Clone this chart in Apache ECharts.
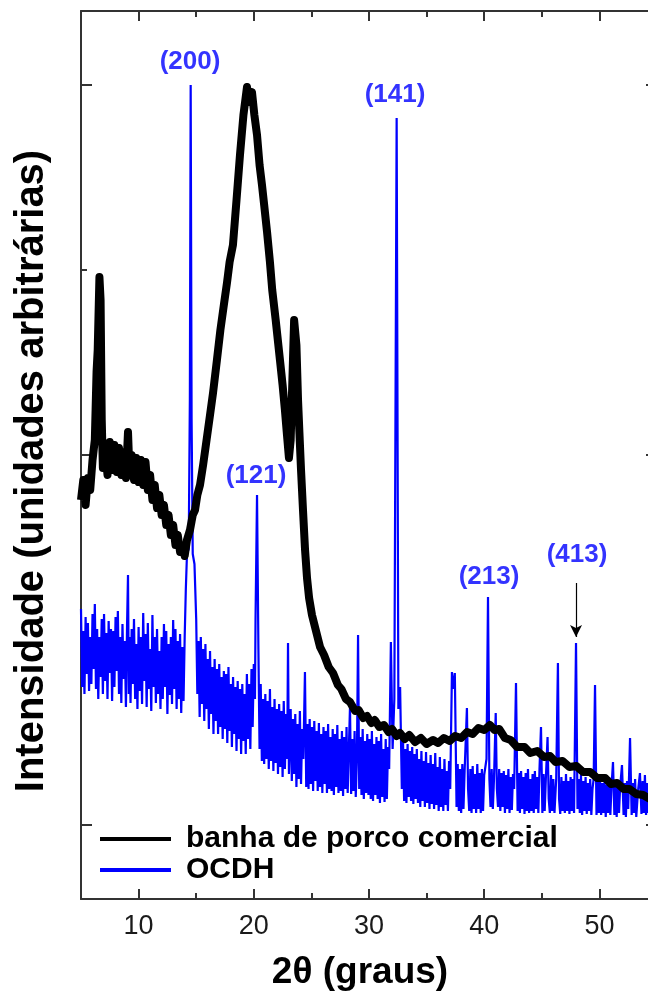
<!DOCTYPE html>
<html>
<head>
<meta charset="utf-8">
<script src="https://cdn.jsdelivr.net/npm/echarts@6/dist/echarts.min.js"></script>
<style>html,body{margin:0;padding:0;background:#fff}#c{width:648px;height:996px}</style>
</head>
<body>
<div id="c"></div>
<script>
// ---- data (2θ in degrees, intensity in arbitrary units) ----
const seriesNames = ['banha de porco comercial', 'OCDH'];
const xTickMajor = [10, 20, 30, 40, 50];
const xTickMinor = [15, 25, 35, 45];
const yTickMajor = [74, 444, 814];
const yTickMinor = [259, 629];

const banha = [
[5.0,399],[5.2,419],[5.4,394],[5.6,421],[5.8,409],[6.0,439],[6.2,459],[6.35,527],[6.45,549],[6.6,622],[6.7,599],[6.8,479],[6.9,431],
[7.1,449],[7.3,424],[7.5,457],[7.7,429],[7.9,454],[8.1,427],[8.3,451],[8.5,424],[8.7,447],[8.9,421],[9.08,467],[9.2,429],[9.4,444],
[9.6,419],[9.8,441],[10.0,417],[10.2,439],[10.4,414],[10.6,437],[10.8,409],[11.0,424],[11.2,399],[11.4,414],[11.6,391],[11.8,404],
[12.0,384],[12.2,394],[12.4,374],[12.6,384],[12.8,364],[13.0,374],[13.2,354],[13.4,364],[13.6,347],[13.85,351],[14.0,343],[14.2,359],
[14.46,369],[14.7,384],[14.9,389],[15.1,404],[15.33,414],[15.6,434],[15.9,459],[16.2,484],[16.46,506],[16.8,539],[17.1,569],[17.4,594],
[17.67,616],[17.9,637],[18.19,654],[18.5,699],[18.8,744],[19.1,784],[19.41,812],[19.6,797],[19.84,807],[20.05,784],[20.28,764],[20.5,734],
[20.71,714],[20.9,694],[21.15,667],[21.4,637],[21.6,609],[21.9,579],[22.27,539],[22.5,514],[22.7,489],[22.88,464],[23.05,441],[23.2,459],
[23.35,519],[23.5,579],[23.58,581],[23.7,554],[23.84,499],[23.95,469],[24.1,429],[24.27,389],[24.45,349],[24.62,321],[24.8,301],
[25.05,284],[25.4,268],[25.75,252],[26.1,244],[26.5,232],[26.88,226],[27.3,214],[27.6,210],[28.0,200],[28.35,197],[28.8,188],[29.1,189],
[29.5,181],[29.83,183],[30.2,176],[30.5,179],[30.9,172],[31.3,174],[31.7,167],[32.0,170],[32.4,163],[32.69,166],[33.1,160],[33.5,164],
[34.0,157],[34.5,161],[35.0,155],[35.56,159],[36.0,156],[36.5,161],[37.0,158],[37.47,163],[38.0,161],[38.51,167],[39.0,165],[39.5,171],
[40.0,169],[40.5,174],[40.9,169],[41.3,170],[41.8,161],[42.3,159],[42.85,152],[43.5,152],[44.0,146],[44.6,148],[45.2,142],[45.71,143],
[46.2,137],[46.8,138],[47.4,132],[48.0,133],[48.58,127],[49.2,127],[49.8,121],[50.5,121],[51.0,115],[51.53,116],[52.1,110],[52.6,110],
[53.2,105],[53.8,104],[54.4,100],[55.0,99]
];

const ocdh = [
[5.0,290],[5.1,212],[5.2,268],[5.3,205],[5.4,282],[5.5,225],[5.6,276],[5.7,208],[5.8,262],[5.9,215],[6.0,285],[6.1,230],[6.2,295],[6.3,210],
[6.4,270],[6.5,200],[6.6,262],[6.7,222],[6.8,280],[6.9,205],[7.0,285],[7.1,218],[7.2,266],[7.3,200],[7.4,278],[7.5,226],[7.6,270],[7.7,198],
[7.8,268],[7.9,212],[8.0,282],[8.1,228],[8.2,288],[8.3,205],[8.4,262],[8.5,196],[8.6,275],[8.7,220],[8.8,258],[8.9,192],[9.0,275],[9.08,324],
[9.15,205],[9.2,262],[9.3,196],[9.4,270],[9.5,215],[9.6,280],[9.7,200],[9.8,255],[9.9,190],[10.0,272],[10.1,208],[10.2,262],[10.3,195],
[10.4,286],[10.5,218],[10.6,265],[10.7,192],[10.8,276],[10.9,210],[11.0,250],[11.1,188],[11.2,284],[11.3,212],[11.4,262],[11.5,196],
[11.6,270],[11.7,205],[11.8,248],[11.9,190],[12.0,262],[12.1,200],[12.2,275],[12.3,212],[12.4,268],[12.5,185],[12.6,255],[12.7,204],
[12.8,262],[12.9,195],[13.0,279],[13.1,210],[13.2,270],[13.3,190],[13.4,258],[13.5,200],[13.6,265],[13.7,186],[13.8,252],[13.9,198],
[14.0,262],[14.1,310],[14.2,345],[14.35,350],[14.45,500],[14.52,814],[14.6,480],[14.7,345],[14.85,335],[15.0,280],[15.1,205],
[15.2,258],[15.3,182],[15.4,262],[15.5,195],[15.6,250],[15.7,178],[15.8,255],[15.9,190],[16.0,240],[16.1,170],[16.2,248],[16.3,185],
[16.4,232],[16.5,165],[16.6,240],[16.7,178],[16.8,230],[16.9,165],[17.0,235],[17.1,172],[17.2,222],[17.3,160],[17.4,228],[17.5,170],
[17.6,225],[17.7,156],[17.8,232],[17.9,168],[18.0,215],[18.1,152],[18.2,222],[18.3,165],[18.4,212],[18.5,148],[18.6,218],[18.7,160],
[18.8,210],[18.9,145],[19.0,215],[19.1,158],[19.2,205],[19.3,145],[19.4,225],[19.5,160],[19.6,215],[19.7,150],[19.8,230],[19.9,172],
[20.0,235],[20.1,200],[20.15,280],[20.28,404],[20.4,250],[20.5,150],[20.6,215],[20.7,138],[20.8,200],[20.9,135],[21.0,205],[21.1,140],
[21.2,198],[21.3,130],[21.4,210],[21.5,138],[21.6,192],[21.7,128],[21.8,200],[21.9,136],[22.0,190],[22.1,125],[22.2,195],[22.3,132],
[22.4,188],[22.5,122],[22.6,198],[22.7,130],[22.8,185],[22.9,140],[22.97,256],[23.05,125],[23.2,190],[23.3,118],[23.4,180],[23.5,125],
[23.6,185],[23.7,112],[23.8,175],[23.9,120],[24.0,188],[24.1,115],[24.2,170],[24.3,140],[24.44,227],[24.55,112],[24.65,175],[24.75,110],
[24.85,180],[24.95,115],[25.05,172],[25.15,108],[25.25,178],[25.35,118],[25.45,168],[25.55,108],[25.65,176],[25.75,112],[25.85,165],
[25.95,106],[26.05,172],[26.15,115],[26.25,168],[26.35,106],[26.45,175],[26.55,110],[26.65,162],[26.75,108],[26.85,170],[26.95,104],
[27.05,165],[27.15,112],[27.25,174],[27.35,106],[27.45,160],[27.55,108],[27.65,168],[27.75,103],[27.85,162],[27.95,110],[28.05,172],
[28.15,106],[28.25,150],[28.35,192],[28.45,105],[28.55,160],[28.65,108],[28.75,168],[28.85,102],[28.95,140],[29.05,264],[29.15,110],
[29.25,162],[29.35,104],[29.45,170],[29.55,100],[29.65,158],[29.75,106],[29.85,165],[29.95,104],[30.05,160],[30.15,100],[30.25,168],
[30.35,98],[30.45,155],[30.55,104],[30.65,162],[30.75,100],[30.85,158],[30.95,96],[31.05,165],[31.15,102],[31.25,150],[31.35,97],
[31.45,160],[31.55,100],[31.65,152],[31.75,130],[31.9,257],[32.05,150],[32.2,200],[32.4,781],[32.55,190],[32.7,212],[32.85,110],
[32.95,160],[33.05,98],[33.15,150],[33.25,96],[33.35,155],[33.45,102],[33.55,148],[33.65,98],[33.75,152],[33.85,95],[33.95,145],
[34.05,100],[34.15,150],[34.25,96],[34.35,140],[34.45,92],[34.55,148],[34.65,98],[34.75,138],[34.85,92],[34.95,147],[35.05,96],
[35.15,136],[35.25,90],[35.35,144],[35.45,95],[35.55,135],[35.65,90],[35.75,146],[35.85,94],[35.95,132],[36.05,88],[36.15,142],
[36.25,92],[36.35,130],[36.45,88],[36.55,140],[36.65,94],[36.75,128],[36.85,88],[36.95,138],[37.05,110],[37.2,227],[37.33,210],
[37.45,226],[37.6,92],[37.7,135],[37.8,88],[37.9,130],[38.0,86],[38.1,135],[38.2,90],[38.3,128],[38.5,191],[38.6,110],[38.7,88],
[38.8,130],[38.9,86],[39.0,133],[39.1,90],[39.2,125],[39.3,86],[39.4,135],[39.5,90],[39.6,126],[39.7,86],[39.8,130],[39.9,88],
[40.0,124],[40.1,132],[40.2,140],[40.33,302],[40.45,120],[40.55,92],[40.65,130],[40.75,90],[40.85,120],[41.0,186],[41.1,110],[41.2,92],
[41.3,130],[41.4,88],[41.5,126],[41.6,92],[41.7,128],[41.8,86],[41.9,124],[42.0,90],[42.1,130],[42.2,86],[42.3,122],[42.4,89],
[42.5,125],[42.6,110],[42.76,216],[42.9,88],[43.0,126],[43.1,86],[43.2,128],[43.3,90],[43.4,122],[43.5,85],[43.6,126],[43.7,88],
[43.8,130],[43.9,86],[44.0,120],[44.1,88],[44.2,125],[44.3,86],[44.4,128],[44.5,90],[44.6,122],[44.7,86],[44.8,130],[44.93,172],
[45.05,86],[45.15,125],[45.25,88],[45.35,120],[45.5,162],[45.6,100],[45.7,86],[45.8,124],[45.9,88],[46.0,120],[46.1,86],[46.25,120],
[46.4,236],[46.5,100],[46.6,85],[46.7,122],[46.8,88],[46.9,118],[47.0,86],[47.1,125],[47.2,88],[47.3,118],[47.4,85],[47.5,122],
[47.6,88],[47.7,120],[47.8,86],[47.97,256],[48.1,90],[48.2,120],[48.3,86],[48.4,124],[48.5,84],[48.6,118],[48.7,88],[48.8,122],
[48.9,85],[49.0,116],[49.1,88],[49.2,120],[49.3,84],[49.4,110],[49.5,120],[49.62,214],[49.75,84],[49.85,118],[49.95,86],[50.05,120],
[50.15,84],[50.25,116],[50.35,86],[50.45,118],[50.55,82],[50.65,114],[50.75,86],[50.85,122],[50.95,84],[51.05,112],[51.18,137],
[51.3,84],[51.4,116],[51.5,82],[51.6,118],[51.7,86],[51.8,112],[51.96,134],[52.1,84],[52.2,116],[52.3,82],[52.4,118],[52.5,90],
[52.66,161],[52.8,84],[52.9,116],[53.0,86],[53.1,120],[53.2,82],[53.35,108],[53.52,126],[53.65,85],[53.75,118],[53.85,86],[53.95,124],
[54.05,84],[54.15,116],[54.25,86],[54.35,122],[54.45,84],[54.55,114],[54.65,86],[54.75,120],[54.85,84],[54.95,112],[55.0,100]
];

// peak annotations (Miller indices) : [2θ, intensity, text]
const peakLabels = [
  [14.46, 837, '(200)'],
  [32.26, 804, '(141)'],
  [20.19, 423, '(121)'],
  [40.42, 322, '(213)'],
  [48.06, 344, '(413)']
];
const arrowFrom = [47.97, 316];
const arrowTo = [47.97, 262];

// ---- chart ----
const FONT = '"Liberation Sans", Arial, sans-serif';
const AX = '#333';
const chart = echarts.init(document.getElementById('c'), null, {renderer: 'canvas'});

function xAx(pos, ticks, len, showLine, labels) {
  return {
    type: 'value', position: pos, min: 5, max: 55, gridIndex: 0,
    axisLine: {show: showLine, onZero: false, lineStyle: {color: AX, width: 2}},
    axisTick: {show: true, inside: true, length: len, customValues: ticks, lineStyle: {color: AX, width: 2}},
    axisLabel: labels ? {show: true, customValues: ticks, margin: 14, fontSize: 27, color: '#1a1a1a', fontFamily: FONT} : {show: false},
    splitLine: {show: false}
  };
}
function yAx(pos, ticks, len, showLine) {
  return {
    type: 'value', position: pos, min: 0, max: 888, gridIndex: 0,
    axisLine: {show: showLine, onZero: false, lineStyle: {color: AX, width: 2}},
    axisTick: {show: true, inside: true, length: len, customValues: ticks, lineStyle: {color: AX, width: 2}},
    axisLabel: {show: false},
    splitLine: {show: false}
  };
}

const xMain = xAx('bottom', xTickMajor, 10, true, true);
xMain.name = '2θ (graus)';
xMain.nameLocation = 'middle';
xMain.nameGap = 55;
xMain.nameTextStyle = {fontSize: 37, fontWeight: 'bold', color: '#000', fontFamily: FONT, padding: [0, 18, 0, 0]};

const yMain = yAx('left', yTickMajor, 11, true);
yMain.name = 'Intensidade (unidades arbitrárias)';
yMain.nameLocation = 'middle';
yMain.nameGap = 29;
yMain.nameRotate = 90;
yMain.nameTextStyle = {fontSize: 40, fontWeight: 'bold', color: '#000', fontFamily: FONT, padding: [0, 32, 0, 0]};

chart.setOption({
  animation: false,
  backgroundColor: '#fff',
  textStyle: {fontFamily: FONT},
  grid: {left: 81, top: 11, width: 576, height: 888, containLabel: false, outerBoundsMode: 'none'},
  legend: {
    data: seriesNames,
    orient: 'vertical', left: 100, top: 824,
    itemWidth: 71, itemHeight: 4, itemGap: 1, padding: 0,
    icon: 'rect',
    textStyle: {fontSize: 30, fontWeight: 'bold', color: '#000', fontFamily: FONT, padding: [0, 0, 0, 10], lineHeight: 29}
  },
  xAxis: [xMain, xAx('bottom', xTickMinor, 6, false, false), xAx('top', xTickMajor, 10, true, false), xAx('top', xTickMinor, 6, false, false)],
  yAxis: [yMain, yAx('left', yTickMinor, 6, false), yAx('right', yTickMajor, 11, true), yAx('right', yTickMinor, 6, false)],
  series: [
    {
      name: 'OCDH', type: 'line', data: ocdh, showSymbol: false, symbol: 'none',
      lineStyle: {color: '#0000ff', width: 2.2}, itemStyle: {color: '#0000ff'}, z: 2
    },
    {
      name: 'banha de porco comercial', type: 'line', data: banha, showSymbol: false, symbol: 'none',
      lineStyle: {color: '#000', width: 8, join: 'round'}, itemStyle: {color: '#000'}, z: 3
    },
    {
      name: 'labels', type: 'scatter', symbolSize: 0, z: 5, silent: true,
      data: peakLabels.map(p => ({value: [p[0], p[1]], name: p[2]})),
      label: {show: true, position: 'inside', formatter: '{b}', fontSize: 26, fontWeight: 'bold', color: '#0000ff', fontFamily: FONT},
      markLine: {
        silent: true, symbol: ['none', 'arrow'], symbolSize: [9, 12],
        lineStyle: {color: '#000', width: 1.2, type: 'solid'},
        label: {show: false},
        data: [[{coord: arrowFrom}, {coord: arrowTo}]]
      }
    }
  ]
});
</script>
</body>
</html>
